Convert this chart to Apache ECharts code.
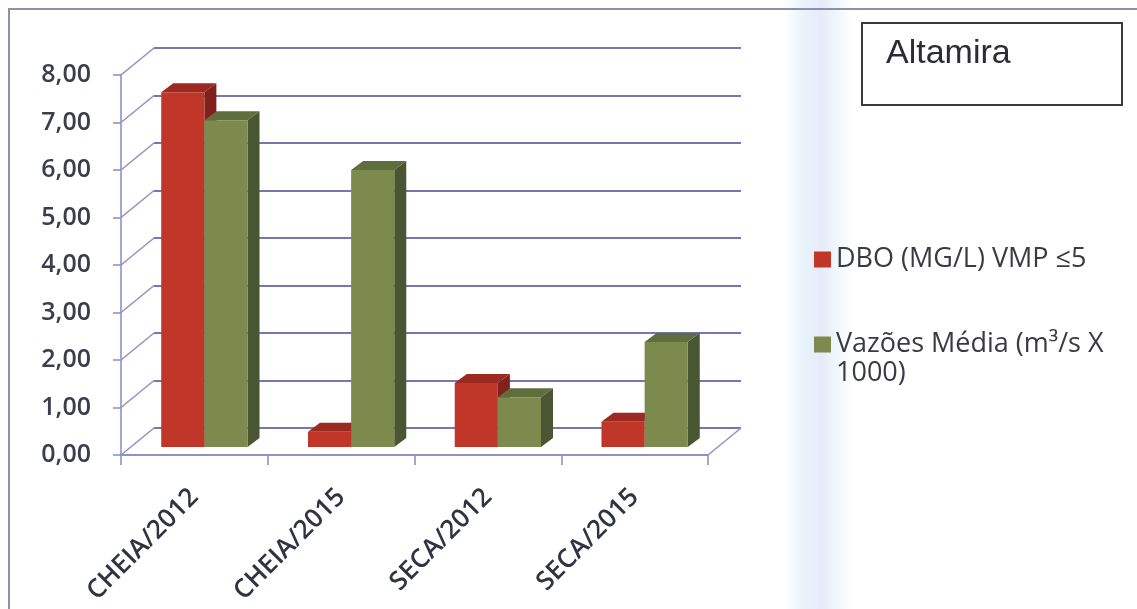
<!DOCTYPE html>
<html>
<head>
<meta charset="utf-8">
<title>Altamira</title>
<script src="https://cdn.jsdelivr.net/npm/echarts@6/dist/echarts.min.js"></script>
<style>
  html, body { margin: 0; padding: 0; background: #ffffff; }
  #chart { width: 1137px; height: 609px; }
</style>
</head>
<body>
<div id="chart"></div>
<script>
// Data
const categories = ['CHEIA/2012', 'CHEIA/2015', 'SECA/2012', 'SECA/2015'];
const dboValues = [7.47, 0.32, 1.35, 0.53];
const vazaoValues = [6.88, 5.83, 1.05, 2.21];
const dboName = 'DBO (MG/L) VMP ≤5';
const vazaoName = 'Vazões Média (m³/s X 1000)';
const yMin = 0;
const yMax = 8;
const yStep = 1;
const yTickValues = [0, 1, 2, 3, 4, 5, 6, 7, 8];

// Oblique projection used for the pseudo-3D look
const WALL_DX = 33, WALL_DY = -27;          // back wall offset from the front plane
const BAR_FRONT_DX = 10, BAR_FRONT_DY = -8; // bar front face offset
const BAR_DEPTH_DX = 12, BAR_DEPTH_DY = -9; // bar depth
const BAR_RATIO = 0.294;                    // bar width as share of a category band

const FRONT = { left: 121, top: 75, width: 587, height: 380 };

const wallColor = '#7478ad';
const axisColor = '#8f93c2';

const redFaces = { front: '#c0372a', top: '#9c2a21', side: '#80221b' };
const greenFaces = { front: '#7c8a4d', top: '#606d3d', side: '#4a5532' };

function barRenderer(slot, faces) {
  return function (params, api) {
    const ci = api.value(0);
    const v = api.value(1);
    const top = api.coord([ci, v]);
    const base = api.coord([ci, 0]);
    const band = api.size([1, 0])[0];
    const w = band * BAR_RATIO;
    const x0 = top[0] + (slot === 0 ? -w : 0) + BAR_FRONT_DX;
    const x1 = x0 + w;
    const yT = top[1] + BAR_FRONT_DY;
    const yB = base[1] + BAR_FRONT_DY;
    const dx = BAR_DEPTH_DX, dy = BAR_DEPTH_DY;
    return {
      type: 'group',
      children: [
        { type: 'polygon', shape: { points: [[x1, yB], [x1 + dx, yB + dy], [x1 + dx, yT + dy], [x1, yT]] },
          style: { fill: faces.side } },
        { type: 'polygon', shape: { points: [[x0, yT], [x1, yT], [x1 + dx, yT + dy], [x0 + dx, yT + dy]] },
          style: { fill: faces.top } },
        { type: 'polygon', shape: { points: [[x0, yB], [x1, yB], [x1, yT], [x0, yT]] },
          style: { fill: faces.front } }
      ]
    };
  };
}

// Left wall edges: one slanted line per value tick
function leftEdgeRenderer(params, api) {
  const p = api.coord([0, api.value(1)]);
  const band = api.size([1, 0])[0];
  const x = p[0] - band / 2;
  return {
    type: 'line',
    shape: { x1: x, y1: p[1], x2: x + WALL_DX, y2: p[1] + WALL_DY },
    style: { stroke: axisColor, lineWidth: 1.6 }
  };
}

// Right edge of the floor
function floorEdgeRenderer(params, api) {
  const p = api.coord([api.value(0), 0]);
  const band = api.size([1, 0])[0];
  const x = p[0] + band / 2;
  return {
    type: 'line',
    shape: { x1: x, y1: p[1], x2: x + WALL_DX, y2: p[1] + WALL_DY },
    style: { stroke: axisColor, lineWidth: 1.6 }
  };
}

const chart = echarts.init(document.getElementById('chart'), null, { renderer: 'canvas' });

const labelFont = 'Open Sans';

chart.setOption({
  backgroundColor: '#ffffff',
  animation: false,
  title: {
    text: 'Altamira',
    left: 862,
    top: 23,
    padding: [14, 112, 34, 24],
    borderColor: '#3a3a3a',
    borderWidth: 2,
    backgroundColor: '#ffffff',
    textStyle: { fontFamily: 'Liberation Sans', fontSize: 34, fontWeight: 'normal', color: '#2c2c38' }
  },
  legend: {
    orient: 'vertical',
    left: 809,
    top: 240,
    itemWidth: 17,
    itemHeight: 16,
    itemGap: 27,
    icon: 'rect',
    selectedMode: false,
    // the wrapped entry gets an empty first line so its swatch lines up with the text's first line
    formatter: function (name) {
      return name === vazaoName ? ' \nVazões Média (m³/s X\n1000)' : name;
    },
    textStyle: { fontFamily: labelFont, fontSize: 27, color: '#3a3a44', lineHeight: 29 },
    data: [dboName, vazaoName]
  },
  graphic: [
    {
      type: 'rect', z: -10, silent: true,
      shape: { x: 782, y: 0, width: 72, height: 609 },
      style: {
        fill: new echarts.graphic.LinearGradient(0, 0, 1, 0, [
          { offset: 0, color: 'rgba(225,240,252,0)' },
          { offset: 0.3, color: 'rgba(214,234,250,0.55)' },
          { offset: 0.55, color: 'rgba(222,226,246,0.7)' },
          { offset: 0.75, color: 'rgba(216,238,250,0.45)' },
          { offset: 1, color: 'rgba(225,240,252,0)' }
        ])
      }
    },
    {
      type: 'polyline', z: -5, silent: true,
      shape: { points: [[9, 609], [9, 9], [1137, 9]] },
      style: { stroke: '#8c90aa', lineWidth: 2, fill: null }
    }
  ],
  grid: [
    { left: FRONT.left, top: FRONT.top, width: FRONT.width, height: FRONT.height, containLabel: false },
    { left: FRONT.left + WALL_DX, top: FRONT.top + WALL_DY, width: FRONT.width, height: FRONT.height, containLabel: false }
  ],
  xAxis: [
    {
      type: 'category', gridIndex: 0, data: categories, boundaryGap: true,
      axisLine: { lineStyle: { color: axisColor, width: 2 } },
      axisTick: { show: true, length: 10, lineStyle: { color: axisColor, width: 1.6 } },
      axisLabel: { rotate: 45, margin: 38, fontFamily: labelFont, fontSize: 26, fontWeight: 600, color: '#2f3342' }
    },
    { type: 'category', gridIndex: 1, data: categories, show: false }
  ],
  yAxis: [
    {
      type: 'value', gridIndex: 0, min: yMin, max: yMax, interval: yStep,
      axisLine: { show: true, lineStyle: { color: axisColor, width: 1.6 } },
      axisTick: { show: true, length: 8, lineStyle: { color: axisColor, width: 1.6 } },
      splitLine: { show: false },
      axisLabel: {
        margin: 30, fontFamily: labelFont, fontSize: 25, fontWeight: 600, color: '#3a3d4e',
        formatter: function (v) { return v.toFixed(2).replace('.', ','); }
      }
    },
    {
      type: 'value', gridIndex: 1, min: yMin, max: yMax, interval: yStep,
      axisLine: { show: false }, axisTick: { show: false }, axisLabel: { show: false },
      splitLine: { show: true, lineStyle: { color: wallColor, width: 2.2 } }
    }
  ],
  series: [
    {
      type: 'custom', name: 'leftEdges', xAxisIndex: 0, yAxisIndex: 0, silent: true, clip: false, z: 1,
      renderItem: leftEdgeRenderer,
      data: yTickValues.map(function (v) { return [0, v]; })
    },
    {
      type: 'custom', name: 'floorEdge', xAxisIndex: 0, yAxisIndex: 0, silent: true, clip: false, z: 1,
      renderItem: floorEdgeRenderer,
      data: [[categories.length - 1, 0]]
    },
    {
      type: 'custom', name: dboName, xAxisIndex: 0, yAxisIndex: 0, clip: false, z: 3,
      itemStyle: { color: redFaces.front },
      renderItem: barRenderer(0, redFaces),
      data: dboValues.map(function (v, i) { return [i, v]; })
    },
    {
      type: 'custom', name: vazaoName, xAxisIndex: 0, yAxisIndex: 0, clip: false, z: 4,
      itemStyle: { color: greenFaces.front },
      renderItem: barRenderer(1, greenFaces),
      data: vazaoValues.map(function (v, i) { return [i, v]; })
    }
  ]
});
</script>
</body>
</html>
